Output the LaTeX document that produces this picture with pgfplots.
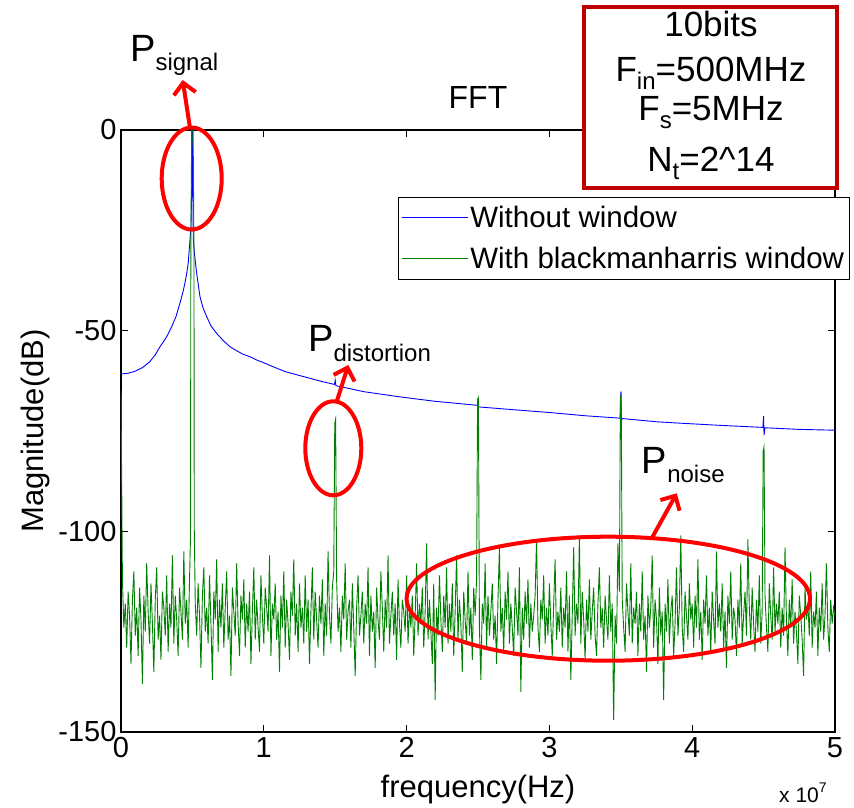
\documentclass[border=0pt]{standalone}
\usepackage{fontspec}
\setmainfont{Liberation Sans}
\usepackage{pgfplots}
\pgfplotsset{compat=1.18}
\usetikzlibrary{arrows.meta}
\definecolor{mgreen}{RGB}{0,128,0}
\definecolor{mblue}{RGB}{0,0,255}
\definecolor{boxred}{RGB}{192,0,0}
\newcommand{\sz}[1]{\fontsize{#1}{#1}\selectfont}
% P with a lowered subscript, for the annotations
\newcommand{\Plab}[1]{\sz{38}P\raisebox{-9pt}{\sz{24}#1}}
\newcommand{\Sub}[1]{\raisebox{-8pt}{\sz{24}#1}}

\begin{document}
\begin{tikzpicture}
\path[use as bounding box] (-121pt,-75pt) rectangle (733pt,732pt);
\begin{axis}[
  at={(0pt,0pt)}, anchor=south west,
  scale only axis, width=714pt, height=602pt,
  xmin=0, xmax=5, ymin=-150, ymax=0,
  xtick={0,1,2,3,4,5}, xticklabels={0,1,2,3,4,5},
  ytick={-150,-100,-50,0}, yticklabels={-150,-100,-50,0},
  /pgf/number format/assume math mode=true,
  tick align=inside, major tick length=7pt,
  axis line style={line width=1.2pt},
  every tick/.style={black, line width=1pt},
  tick label style={font=\sz{29}},
  xticklabel style={yshift=-2pt},
  yticklabel style={xshift=-1pt},
  title={FFT},
  title style={font=\sz{32}, at={(axis description cs:0.5,1.0448)}, anchor=center},
  xlabel={frequency(Hz)},
  xlabel style={font=\sz{31}, at={(axis description cs:0.5,-0.0963)}, anchor=center},
  ylabel={Magnitude(dB)},
  ylabel style={font=\sz{31}, at={(axis description cs:-0.1204,0.5)}, anchor=center},
  legend style={at={(axis description cs:0.388,0.8887)}, anchor=north west,
    font=\sz{29.5}, draw=black, line width=0.8pt, fill=white,
    inner xsep=3pt, inner ysep=7pt, row sep=14pt},
  legend cell align=left,
  legend image code/.code={\draw[#1, line width=0.9pt] (0pt,0pt) -- (57pt,0pt);
    \path (0pt,0pt) -- (66pt,0pt);},
]
% spectrum with a rectangular window
\addplot[mblue, line width=0.9pt] coordinates {
(0,-60.8)(0.05,-60.6)(0.1,-60.1)(0.15,-59.2)(0.2,-57.8)(0.24,-56.0)(0.273,-54.0)(0.3,-52.6)
(0.32,-51.5)(0.355,-49.0)(0.385,-46.5)(0.413,-43.1)(0.435,-40.2)(0.448,-38.1)(0.461,-35.6)
(0.471,-33.1)(0.483,-27.4)(0.49,-24)(0.495,-15)(0.5,0)
(0.503,-14)(0.506,-27)(0.515,-31)(0.53,-35.7)(0.553,-41.5)(0.575,-44.4)(0.6,-46.5)(0.63,-48.8)
(0.67,-50.7)(0.72,-52.6)(0.763,-54.0)(0.8,-54.8)(0.85,-55.8)(0.903,-56.5)(0.95,-57.3)(1.0,-58.0)
(1.066,-59.0)(1.15,-60.2)(1.253,-61.2)(1.4,-62.6)(1.495,-63.4)(1.5,-62.3)
(1.505,-63.7)(1.7,-65.2)(1.954,-66.5)(2.2,-67.6)(2.495,-68.6)(2.5,-66.8)(2.505,-69)
(2.75,-69.7)(3.004,-70.4)(3.25,-71.2)(3.495,-71.8)(3.5,-65.2)(3.505,-72.3)(3.51,-71.9)
(3.75,-72.7)(3.94,-73.1)(4.2,-73.6)(4.495,-74.1)(4.5,-71.3)(4.503,-76.0)(4.51,-74.2)
(4.75,-74.6)(5.0,-74.8)
};
\addlegendentry{Without window}
% spectrum with a Blackman-Harris window
\addplot[mgreen, line width=0.9pt] coordinates {
(0,-65)(0.01,-112)(0.02,-124)(0.03,-118)(0.04,-129)(0.05,-115)(0.06,-121)(0.07,-133)(0.08,-117)(0.09,-110)
(0.10,-126)(0.11,-119)(0.12,-131)(0.13,-114)(0.14,-122)(0.15,-138)(0.16,-116)(0.17,-125)(0.18,-108)(0.19,-120)
(0.20,-128)(0.21,-113)(0.22,-123)(0.23,-135)(0.24,-117)(0.25,-109)(0.26,-127)(0.27,-121)(0.28,-132)(0.29,-115)
(0.30,-119)(0.31,-126)(0.32,-111)(0.33,-130)(0.34,-118)(0.35,-124)(0.36,-106)(0.37,-128)(0.38,-116)(0.39,-122)
(0.40,-131)(0.41,-114)(0.42,-120)(0.43,-127)(0.44,-105)(0.45,-123)(0.46,-117)(0.47,-129)(0.48,-112)
(0.487,-101)(0.489,-30)(0.495,0)(0.505,0)(0.511,-30)(0.513,-99)
(0.52,-118)(0.53,-126)(0.54,-113)(0.55,-121)(0.56,-134)(0.57,-116)(0.58,-109)(0.59,-125)
(0.60,-119)(0.61,-128)(0.62,-111)(0.63,-123)(0.64,-137)(0.65,-115)(0.66,-122)(0.67,-107)(0.68,-130)(0.69,-117)
(0.70,-124)(0.71,-113)(0.72,-129)(0.73,-119)(0.74,-110)(0.75,-127)(0.76,-121)(0.77,-136)(0.78,-114)(0.79,-120)
(0.80,-126)(0.81,-108)(0.82,-123)(0.83,-131)(0.84,-116)(0.85,-122)(0.86,-112)(0.87,-129)(0.88,-118)(0.89,-125)
(0.90,-115)(0.91,-133)(0.92,-120)(0.93,-109)(0.94,-127)(0.95,-117)(0.96,-124)(0.97,-130)(0.98,-111)(0.99,-121)
(1.00,-128)(1.01,-114)(1.02,-119)(1.03,-125)(1.04,-106)(1.05,-131)(1.06,-118)(1.07,-122)(1.08,-113)(1.09,-127)
(1.10,-120)(1.11,-135)(1.12,-116)(1.13,-124)(1.14,-110)(1.15,-129)(1.16,-117)(1.17,-123)(1.18,-132)(1.19,-115)
(1.20,-121)(1.21,-107)(1.22,-126)(1.23,-118)(1.24,-130)(1.25,-113)(1.26,-124)(1.27,-119)(1.28,-128)(1.29,-111)
(1.30,-125)(1.31,-117)(1.32,-133)(1.33,-120)(1.34,-109)(1.35,-127)(1.36,-115)(1.37,-122)(1.38,-129)(1.39,-116)
(1.40,-123)(1.41,-112)(1.42,-131)(1.43,-118)(1.44,-126)(1.45,-105)(1.46,-121)(1.47,-128)(1.48,-114)(1.49,-110)
(1.497,-73)(1.503,-72)
(1.51,-112)(1.52,-125)(1.53,-119)(1.54,-130)(1.55,-116)(1.56,-122)(1.57,-108)(1.58,-127)(1.59,-120)
(1.60,-117)(1.61,-129)(1.62,-113)(1.63,-124)(1.64,-136)(1.65,-119)(1.66,-111)(1.67,-126)(1.68,-121)(1.69,-115)
(1.70,-128)(1.71,-118)(1.72,-123)(1.73,-109)(1.74,-131)(1.75,-116)(1.76,-125)(1.77,-120)(1.78,-134)(1.79,-114)
(1.80,-122)(1.81,-127)(1.82,-110)(1.83,-119)(1.84,-130)(1.85,-117)(1.86,-124)(1.87,-106)(1.88,-128)(1.89,-121)
(1.90,-115)(1.91,-126)(1.92,-118)(1.93,-132)(1.94,-112)(1.95,-123)(1.96,-129)(1.97,-117)(1.98,-120)(1.99,-125)
(2.00,-111)(2.01,-128)(2.02,-119)(2.03,-124)(2.04,-116)(2.05,-131)(2.06,-121)(2.07,-108)(2.08,-126)(2.09,-118)
(2.10,-123)(2.11,-114)(2.12,-129)(2.13,-120)(2.14,-103)(2.15,-127)(2.16,-117)(2.17,-125)(2.18,-133)(2.19,-113)
(2.20,-142)(2.21,-119)(2.22,-126)(2.23,-111)(2.24,-122)(2.25,-130)(2.26,-116)(2.27,-124)(2.28,-109)(2.29,-128)
(2.30,-118)(2.31,-125)(2.32,-113)(2.33,-131)(2.34,-120)(2.35,-106)(2.36,-127)(2.37,-117)(2.38,-123)(2.39,-135)
(2.40,-115)(2.41,-122)(2.42,-128)(2.43,-110)(2.44,-126)(2.45,-119)(2.46,-132)(2.47,-114)(2.48,-121)(2.49,-112)
(2.497,-68)(2.503,-67)
(2.51,-124)(2.52,-137)(2.53,-118)(2.54,-123)(2.55,-108)(2.56,-129)(2.57,-116)(2.58,-126)(2.59,-120)
(2.60,-113)(2.61,-127)(2.62,-121)(2.63,-133)(2.64,-117)(2.65,-104)(2.66,-125)(2.67,-119)(2.68,-130)(2.69,-115)
(2.70,-122)(2.71,-110)(2.72,-128)(2.73,-118)(2.74,-124)(2.75,-131)(2.76,-114)(2.77,-120)(2.78,-126)(2.79,-109)
(2.80,-140)(2.81,-119)(2.82,-127)(2.83,-115)(2.84,-123)(2.85,-112)(2.86,-129)(2.87,-118)(2.88,-125)(2.89,-121)
(2.90,-116)(2.91,-102)(2.92,-124)(2.93,-130)(2.94,-117)(2.95,-122)(2.96,-111)(2.97,-128)(2.98,-119)(2.99,-126)
(3.00,-113)(3.01,-123)(3.02,-131)(3.03,-118)(3.04,-107)(3.05,-127)(3.06,-120)(3.07,-125)(3.08,-114)(3.09,-129)
(3.10,-119)(3.11,-124)(3.12,-110)(3.13,-130)(3.14,-116)(3.15,-137)(3.16,-121)(3.17,-104)(3.18,-126)(3.19,-118)
(3.20,-123)(3.21,-101)(3.22,-128)(3.23,-115)(3.24,-122)(3.25,-132)(3.26,-117)(3.27,-125)(3.28,-112)(3.29,-127)
(3.30,-120)(3.31,-114)(3.32,-126)(3.33,-131)(3.34,-118)(3.35,-109)(3.36,-124)(3.37,-119)(3.38,-129)(3.39,-116)
(3.40,-122)(3.41,-127)(3.42,-111)(3.43,-125)(3.44,-118)(3.45,-147)(3.46,-121)(3.47,-128)(3.48,-103)(3.49,-115)
(3.497,-67)(3.503,-66)
(3.51,-117)(3.52,-124)(3.53,-130)(3.54,-113)(3.55,-120)(3.56,-126)(3.57,-108)(3.58,-128)(3.59,-119)
(3.60,-123)(3.61,-115)(3.62,-131)(3.63,-118)(3.64,-125)(3.65,-110)(3.66,-127)(3.67,-121)(3.68,-135)(3.69,-116)
(3.70,-124)(3.71,-119)(3.72,-106)(3.73,-129)(3.74,-117)(3.75,-122)(3.76,-133)(3.77,-114)(3.78,-126)(3.79,-120)
(3.80,-142)(3.81,-118)(3.82,-125)(3.83,-112)(3.84,-128)(3.85,-120)(3.86,-116)(3.87,-131)(3.88,-123)(3.89,-109)
(3.90,-126)(3.91,-119)(3.92,-101)(3.93,-124)(3.94,-130)(3.95,-115)(3.96,-121)(3.97,-127)(3.98,-113)(3.99,-122)
(4.00,-118)(4.01,-129)(4.02,-116)(4.03,-124)(4.04,-107)(4.05,-127)(4.06,-120)(4.07,-132)(4.08,-117)(4.09,-123)
(4.10,-111)(4.11,-126)(4.12,-119)(4.13,-130)(4.14,-115)(4.15,-122)(4.16,-128)(4.17,-105)(4.18,-124)(4.19,-118)
(4.20,-125)(4.21,-113)(4.22,-129)(4.23,-120)(4.24,-134)(4.25,-116)(4.26,-123)(4.27,-110)(4.28,-127)(4.29,-119)
(4.30,-122)(4.31,-131)(4.32,-117)(4.33,-124)(4.34,-108)(4.35,-128)(4.36,-121)(4.37,-115)(4.38,-126)(4.39,-102)
(4.40,-119)(4.41,-127)(4.42,-114)(4.43,-123)(4.44,-130)(4.45,-117)(4.46,-125)(4.47,-111)(4.48,-128)(4.49,-120)
(4.497,-80)(4.503,-79)
(4.51,-116)(4.52,-124)(4.53,-130)(4.54,-113)(4.55,-121)(4.56,-127)(4.57,-109)(4.58,-125)(4.59,-118)
(4.60,-123)(4.61,-115)(4.62,-129)(4.63,-119)(4.64,-126)(4.65,-104)(4.66,-122)(4.67,-131)(4.68,-117)(4.69,-124)
(4.70,-112)(4.71,-128)(4.72,-120)(4.73,-125)(4.74,-133)(4.75,-116)(4.76,-121)(4.77,-127)(4.78,-136)(4.79,-114)
(4.80,-122)(4.81,-118)(4.82,-126)(4.83,-110)(4.84,-129)(4.85,-120)(4.86,-124)(4.87,-115)(4.88,-131)(4.89,-119)
(4.90,-125)(4.91,-113)(4.92,-127)(4.93,-121)(4.94,-108)(4.95,-124)(4.96,-130)(4.97,-117)(4.98,-123)(4.99,-119)(5.00,-121)
};
\addlegendentry{With blackmanharris window}
\end{axis}

% x-axis scale factor
\node[anchor=base west, inner sep=0pt] at (658pt,-70pt) {\sz{21}x 10\raisebox{10pt}{\sz{14}7}};

% simulation parameters box
\draw[boxred, line width=4pt, fill=white] (463pt,544pt) rectangle (716pt,725pt);
\node[anchor=base, inner sep=0pt] at (590pt,695pt) {\sz{35}10bits};
\node[anchor=base, inner sep=0pt] at (590pt,650pt) {\sz{35}F\Sub{in}=500MHz};
\node[anchor=base, inner sep=0pt] at (590pt,611pt) {\sz{35}F\Sub{s}=5MHz};
\node[anchor=base, inner sep=0pt] at (590pt,560pt) {\sz{35}N\Sub{t}=2\^{}14};

% annotations
\begin{scope}[red, line width=4pt]
  \draw (70.7pt,553.5pt) ellipse [x radius=30pt, y radius=51pt];
  \draw[-{Straight Barb[length=11pt,width=22pt]}] (69pt,604pt) -- (61.7pt,652pt);
  \draw (212.3pt,283.7pt) ellipse [x radius=28pt, y radius=47pt];
  \draw[-{Straight Barb[length=11pt,width=22pt]}] (215.7pt,330.3pt) -- (227.3pt,367pt);
  \draw (487.3pt,133.3pt) ellipse [x radius=201.7pt, y radius=62pt];
  \draw[-{Straight Barb[length=11pt,width=22pt]}] (530.7pt,193.7pt) -- (555.7pt,238.7pt);
\end{scope}
\node[anchor=base west, inner sep=0pt] at (9pt,670pt) {\Plab{signal}};
\node[anchor=base west, inner sep=0pt] at (187pt,380pt) {\Plab{distortion}};
\node[anchor=base west, inner sep=0pt] at (520.7pt,259pt) {\Plab{noise}};
\end{tikzpicture}
\end{document}
